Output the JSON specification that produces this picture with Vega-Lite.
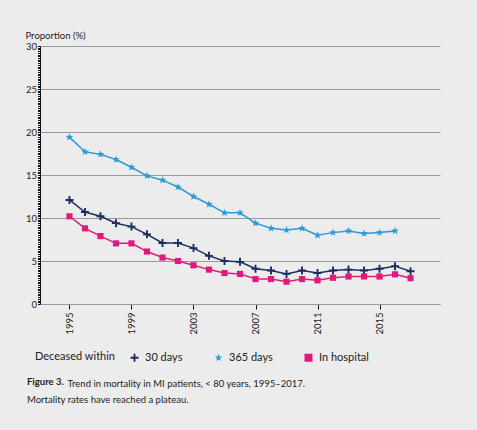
{
  "$schema": "https://vega.github.io/schema/vega-lite/v6.json",
  "autosize": "none",
  "padding": {"left": 40, "top": 46, "right": 37, "bottom": 126},
  "width": 400,
  "height": 258,
  "background": "#ececec",
  "config": {
    "view": {"stroke": null},
    "font": "Lato",
    "axis": {"labelFont": "Lato", "titleFont": "Lato", "labelColor": "#222", "titleColor": "#222"},
    "axisX": {"labelOverlap": false, "labelAngle": 270, "grid": false},
    "axisY": {"labelOverlap": false},
    "legend": {"labelFont": "Lato", "titleFont": "Lato"}
  },
  "title": {
    "text": "Figure 3.",
    "subtitle": "Mortality rates have reached a plateau.",
    "orient": "bottom",
    "anchor": "start",
    "frame": "group",
    "offset": -10.5,
    "dx": -13,
    "baseline": "top",
    "fontSize": 9.5,
    "fontWeight": "bold",
    "color": "#222",
    "subtitleFontSize": 9.5,
    "subtitleColor": "#222",
    "subtitlePadding": 8.5,
    "font": "Lato",
    "subtitleFont": "Lato"
  },
  "data": {
    "values": [
      {"year": 1995, "series": "30 days", "value": 12.1},
      {"year": 1996, "series": "30 days", "value": 10.7},
      {"year": 1997, "series": "30 days", "value": 10.2},
      {"year": 1998, "series": "30 days", "value": 9.4},
      {"year": 1999, "series": "30 days", "value": 9.0},
      {"year": 2000, "series": "30 days", "value": 8.1},
      {"year": 2001, "series": "30 days", "value": 7.1},
      {"year": 2002, "series": "30 days", "value": 7.1},
      {"year": 2003, "series": "30 days", "value": 6.5},
      {"year": 2004, "series": "30 days", "value": 5.6},
      {"year": 2005, "series": "30 days", "value": 5.0},
      {"year": 2006, "series": "30 days", "value": 4.9},
      {"year": 2007, "series": "30 days", "value": 4.1},
      {"year": 2008, "series": "30 days", "value": 3.9},
      {"year": 2009, "series": "30 days", "value": 3.5},
      {"year": 2010, "series": "30 days", "value": 3.9},
      {"year": 2011, "series": "30 days", "value": 3.6},
      {"year": 2012, "series": "30 days", "value": 3.9},
      {"year": 2013, "series": "30 days", "value": 4.0},
      {"year": 2014, "series": "30 days", "value": 3.9},
      {"year": 2015, "series": "30 days", "value": 4.1},
      {"year": 2016, "series": "30 days", "value": 4.4},
      {"year": 2017, "series": "30 days", "value": 3.8},
      {"year": 1995, "series": "365 days", "value": 19.4},
      {"year": 1996, "series": "365 days", "value": 17.7},
      {"year": 1997, "series": "365 days", "value": 17.4},
      {"year": 1998, "series": "365 days", "value": 16.8},
      {"year": 1999, "series": "365 days", "value": 15.9},
      {"year": 2000, "series": "365 days", "value": 14.9},
      {"year": 2001, "series": "365 days", "value": 14.4},
      {"year": 2002, "series": "365 days", "value": 13.6},
      {"year": 2003, "series": "365 days", "value": 12.5},
      {"year": 2004, "series": "365 days", "value": 11.6},
      {"year": 2005, "series": "365 days", "value": 10.6},
      {"year": 2006, "series": "365 days", "value": 10.6},
      {"year": 2007, "series": "365 days", "value": 9.4},
      {"year": 2008, "series": "365 days", "value": 8.8},
      {"year": 2009, "series": "365 days", "value": 8.6},
      {"year": 2010, "series": "365 days", "value": 8.8},
      {"year": 2011, "series": "365 days", "value": 8.0},
      {"year": 2012, "series": "365 days", "value": 8.3},
      {"year": 2013, "series": "365 days", "value": 8.5},
      {"year": 2014, "series": "365 days", "value": 8.2},
      {"year": 2015, "series": "365 days", "value": 8.3},
      {"year": 2016, "series": "365 days", "value": 8.5},
      {"year": 1995, "series": "In hospital", "value": 10.2},
      {"year": 1996, "series": "In hospital", "value": 8.8},
      {"year": 1997, "series": "In hospital", "value": 7.9},
      {"year": 1998, "series": "In hospital", "value": 7.05},
      {"year": 1999, "series": "In hospital", "value": 7.05},
      {"year": 2000, "series": "In hospital", "value": 6.1},
      {"year": 2001, "series": "In hospital", "value": 5.4},
      {"year": 2002, "series": "In hospital", "value": 5.0},
      {"year": 2003, "series": "In hospital", "value": 4.5},
      {"year": 2004, "series": "In hospital", "value": 4.0},
      {"year": 2005, "series": "In hospital", "value": 3.6},
      {"year": 2006, "series": "In hospital", "value": 3.5},
      {"year": 2007, "series": "In hospital", "value": 2.9},
      {"year": 2008, "series": "In hospital", "value": 2.9},
      {"year": 2009, "series": "In hospital", "value": 2.6},
      {"year": 2010, "series": "In hospital", "value": 2.9},
      {"year": 2011, "series": "In hospital", "value": 2.75},
      {"year": 2012, "series": "In hospital", "value": 3.05},
      {"year": 2013, "series": "In hospital", "value": 3.2},
      {"year": 2014, "series": "In hospital", "value": 3.2},
      {"year": 2015, "series": "In hospital", "value": 3.2},
      {"year": 2016, "series": "In hospital", "value": 3.45},
      {"year": 2017, "series": "In hospital", "value": 3.0}
    ]
  },
  "layer": [
    {
      "mark": {"type": "line", "strokeWidth": 1.5},
      "encoding": {
        "x": {
          "field": "year",
          "type": "quantitative",
          "scale": {"domain": [1993.1, 2018.9], "nice": false, "zero": false},
          "axis": {
            "values": [1995, 1996, 1997, 1998, 1999, 2000, 2001, 2002, 2003, 2004, 2005, 2006, 2007, 2008, 2009, 2010, 2011, 2012, 2013, 2014, 2015, 2016, 2017],
            "format": "d",
            "labelAngle": 270,
            "labelAlign": "right",
            "labelBaseline": "middle",
            "labelPadding": 3,
            "labelFontSize": 9.5,
            "labelOverlap": false,
            "tickSize": 5,
            "tickColor": "#111",
            "domainColor": "#999",
            "grid": false,
            "title": "Trend in mortality in MI patients, < 80 years, 1995–2017.",
            "titleFontSize": 9.5,
            "titleFontWeight": "normal",
            "titleAlign": "left",
            "titleBaseline": "alphabetic",
            "titleAnchor": "start",
            "titleX": 27,
            "titleY": 82
          }
        },
        "y": {
          "field": "value",
          "type": "quantitative",
          "scale": {"domain": [0, 30], "nice": false},
          "axis": {
            "tickCount": 120,
            "labelExpr": "datum.value % 5 === 0 ? '' + datum.value : ''",
            "labelOverlap": false,
            "labelFontSize": 9.5,
            "labelPadding": 1,
            "tickSize": 2.5,
            "tickColor": "#111",
            "domainColor": "#111",
            "grid": true,
            "gridColor": "#999",
            "gridOpacity": {"condition": {"test": "datum.value % 5 === 0", "value": 1}, "value": 0},
            "title": "Proportion (%)",
            "titleAngle": 0,
            "titleAlign": "left",
            "titleBaseline": "alphabetic",
            "titleFontSize": 9.5,
            "titleFontWeight": "normal",
            "titleX": -15,
            "titleY": -8
          }
        },
        "color": {
          "field": "series",
          "type": "nominal",
          "scale": {"domain": ["30 days", "365 days", "In hospital"], "range": ["#1b2f5e", "#2b9ad6", "#e0197d"]},
          "legend": {
            "orient": "none",
            "legendX": -5,
            "legendY": 306,
            "direction": "horizontal",
            "title": "Deceased within",
            "titleOrient": "left",
            "titleFontSize": 11,
            "titleFontWeight": "normal",
            "titleColor": "#222",
            "titleBaseline": "middle",
            "titlePadding": 13,
            "labelFontSize": 11,
            "labelColor": "#222",
            "labelOffset": 5,
            "columnPadding": 30,
            "symbolSize": 64,
            "symbolStrokeWidth": 0,
            "encode": {
              "symbols": {
                "update": {
                  "fill": {"scale": "color", "field": "value"},
                  "fillOpacity": {"value": 1},
                  "opacity": {"value": 1},
                  "stroke": {"value": "transparent"},
                  "strokeWidth": {"value": 0}
                }
              }
            }
          }
        }
      }
    },
    {
      "mark": {"type": "point", "filled": true, "opacity": 1, "strokeWidth": 0},
      "encoding": {
        "x": {"field": "year", "type": "quantitative", "axis": {"labelOverlap": false}},
        "y": {"field": "value", "type": "quantitative"},
        "shape": {
          "field": "series",
          "type": "nominal",
          "scale": {"domain": ["30 days", "365 days", "In hospital"], "range": ["M-1,-0.24H-0.24V-1H0.24V-0.24H1V0.24H0.24V1H-0.24V0.24H-1Z", "M0,-1L0.247,-0.34L0.951,-0.309L0.4,0.13L0.588,0.809L0,0.42L-0.588,0.809L-0.4,0.13L-0.951,-0.309L-0.247,-0.34Z", "square"]},
          "legend": null
        },
        "size": {"condition": {"test": "datum.series === 'In hospital'", "value": 38}, "value": 64},
        "fill": {
          "field": "series",
          "type": "nominal",
          "scale": {"domain": ["30 days", "365 days", "In hospital"], "range": ["#1b2f5e", "#2b9ad6", "#e0197d"]},
          "legend": null
        }
      }
    }
  ]
}
